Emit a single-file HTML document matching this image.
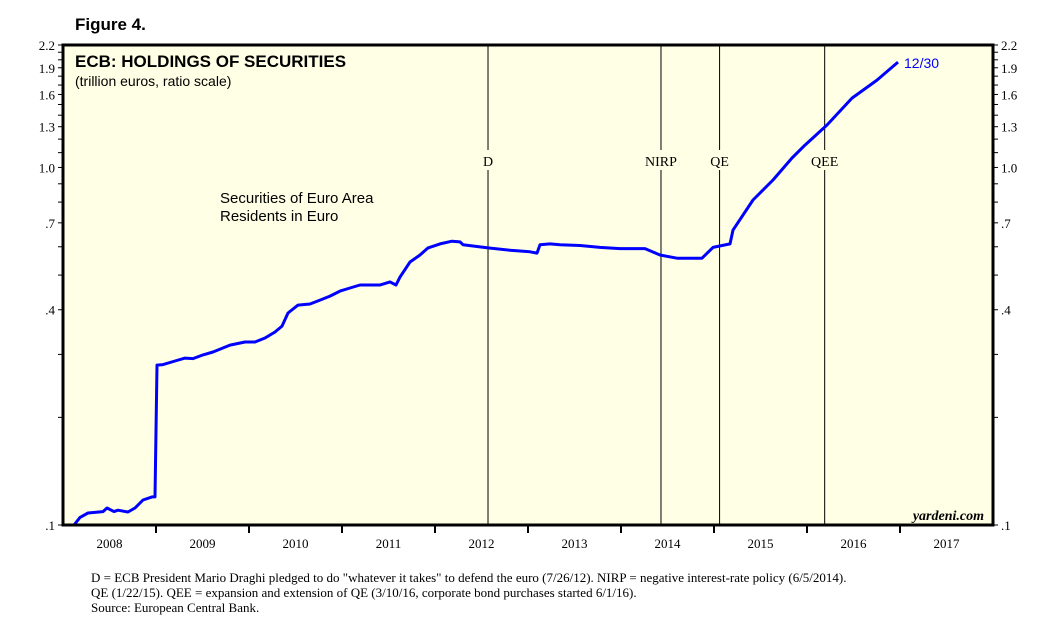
<!DOCTYPE html>
<html><head><meta charset="utf-8"><style>
body{margin:0;background:#fff;width:1047px;height:637px;overflow:hidden;font-family:"Liberation Sans",sans-serif}
svg{display:block}
</style></head><body>
<svg width="1047" height="637" xmlns="http://www.w3.org/2000/svg">
<text x="75" y="30" font-size="17" font-weight="bold">Figure 4.</text>
<rect x="63" y="45" width="930" height="480" fill="#ffffe6"/>
<g id="grid"></g>
<path id="line" fill="none" stroke="#0000ff" stroke-width="3" stroke-linejoin="round"/>
<rect x="63" y="45" width="930" height="480" fill="none" stroke="#000" stroke-width="3"/>
<g id="axes"></g>
<text x="75" y="67" font-size="17" font-weight="bold">ECB: HOLDINGS OF SECURITIES</text>
<text x="75" y="86" font-size="14">(trillion euros, ratio scale)</text>
<text x="220" y="203" font-size="15">Securities of Euro Area</text>
<text x="220" y="221" font-size="15">Residents in Euro</text>
<text x="904" y="68" font-size="14" fill="#0000ff">12/30</text>
<text x="984" y="520" font-size="14" font-weight="bold" font-style="italic" text-anchor="end" font-family="Liberation Serif,serif">yardeni.com</text>
<g font-family="Liberation Serif,serif" font-size="13">
<text x="91" y="582">D = ECB President Mario Draghi pledged to do "whatever it takes" to defend the euro (7/26/12). NIRP = negative interest-rate policy (6/5/2014).</text>
<text x="91" y="597">QE (1/22/15). QEE = expansion and extension of QE (3/10/16, corporate bond purchases started 6/1/16).</text>
<text x="91" y="612">Source: European Central Bank.</text>
</g>
</svg>
<script>
const dates=[2008.118,2008.183,2008.269,2008.430,2008.473,2008.548,2008.591,2008.699,2008.774,2008.860,2008.957,2008.989,2009.011,2009.075,2009.204,2009.312,2009.398,2009.505,2009.613,2009.796,2009.957,2010.065,2010.172,2010.280,2010.355,2010.419,2010.527,2010.656,2010.763,2010.871,2010.978,2011.086,2011.194,2011.409,2011.516,2011.581,2011.624,2011.731,2011.839,2011.925,2012.054,2012.183,2012.269,2012.301,2012.570,2012.806,2013.022,2013.097,2013.129,2013.237,2013.344,2013.559,2013.774,2013.989,2014.258,2014.419,2014.602,2014.871,2014.989,2015.172,2015.204,2015.419,2015.634,2015.839,2015.978,2016.215,2016.484,2016.753,2016.978];
const values=[0.100,0.105,0.108,0.109,0.1116,0.109,0.110,0.1087,0.1116,0.1175,0.1198,0.1198,0.280,0.281,0.2875,0.293,0.292,0.299,0.3047,0.3186,0.325,0.325,0.3334,0.3465,0.360,0.3916,0.412,0.415,0.4257,0.4366,0.451,0.460,0.469,0.469,0.4785,0.469,0.4935,0.544,0.569,0.5955,0.611,0.622,0.619,0.608,0.5955,0.587,0.581,0.576,0.608,0.611,0.608,0.605,0.5975,0.593,0.593,0.569,0.5575,0.5575,0.5975,0.611,0.668,0.811,0.922,1.063,1.155,1.314,1.563,1.755,1.971];
const yTicks=[0.1,0.4,0.7,1.0,1.3,1.6,1.9,2.2];
const yTickLabels=[".1",".4",".7","1.0","1.3","1.6","1.9","2.2"];
const years=[2008,2009,2010,2011,2012,2013,2014,2015,2016,2017];
const eventDates=[2012.57,2014.43,2015.06,2016.19];
const eventLabels=["D","NIRP","QE","QEE"];
const X0=63,X1=993,Y0=525,Y1=45,T0=2008,T1=2018,V0=0.1,V1=2.2;
const NS="http://www.w3.org/2000/svg";
function xs(t){return X0+(t-T0)/(T1-T0)*(X1-X0);}
function ys(v){return Y0-Math.log10(v/V0)/Math.log10(V1/V0)*(Y0-Y1);}
function mk(tag,attrs,parent,text){const e=document.createElementNS(NS,tag);for(const k in attrs)e.setAttribute(k,attrs[k]);if(text!==undefined)e.textContent=text;parent.appendChild(e);return e;}
const grid=document.getElementById('grid'),axes=document.getElementById('axes');
eventDates.forEach((d,i)=>{
  const x=xs(d);
  const l=mk('line',{x1:x,x2:x,y1:Y1,y2:Y0,stroke:'#000','stroke-width':1},grid);
  
  
  const bg=mk('rect',{x:x-22,y:150,width:44,height:20,fill:'#ffffe6'},grid);
  const t=mk('text',{x:x,y:166,'text-anchor':'middle','font-size':14,'font-family':'Liberation Serif,serif'},grid,eventLabels[i]);
  
  
});
let d='';dates.forEach((t,i)=>{d+=(i?'L':'M')+xs(t).toFixed(1)+' '+ys(values[i]).toFixed(1);});
document.getElementById('line').setAttribute('d',d);
for(let v=0.1;v<=2.2001;v+=0.1){const y=ys(v);
  mk('line',{x1:X0-5,x2:X0,y1:y,y2:y,stroke:'#000'},axes);
  mk('line',{x1:X1,x2:X1+5,y1:y,y2:y,stroke:'#000'},axes);}
yTicks.forEach((v,i)=>{const y=ys(v);
  const a=mk('text',{x:X0-8,y:y+5,'text-anchor':'end','font-size':13,'font-family':'Liberation Serif,serif'},axes,yTickLabels[i]);
  
  
  const b=mk('text',{x:X1+8,y:y+5,'font-size':13,'font-family':'Liberation Serif,serif'},axes,yTickLabels[i]);
  
  });
years.forEach((yr,i)=>{const x=xs(yr);
  if(i>0)mk('line',{x1:x,x2:x,y1:Y0,y2:Y0+8,stroke:'#000','stroke-width':2},axes);
  const t=mk('text',{x:xs(yr+0.5),y:Y0+23,'text-anchor':'middle','font-size':13,'font-family':'Liberation Serif,serif'},axes,String(yr));
  
  });
</script>
</body></html>
